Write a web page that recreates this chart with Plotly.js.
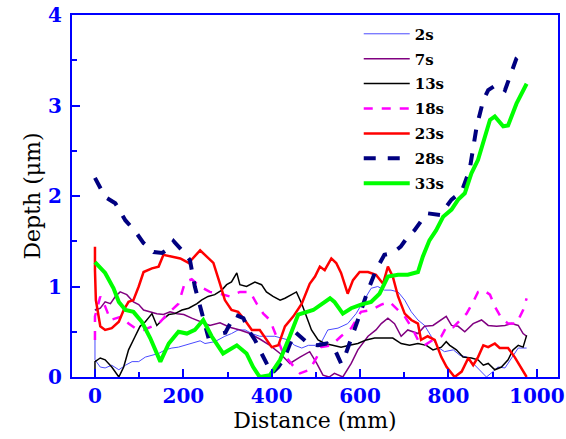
<!DOCTYPE html>
<html>
<head>
<meta charset="utf-8">
<script src="https://cdn.plot.ly/plotly-3.0.1.min.js"></script>
<style>html,body{margin:0;padding:0;background:#fff;}#chart{width:566px;height:439px;}</style>
</head>
<body>
<div id="chart"></div>
<script>
// Series names
const seriesNames = ['2s', '7s', '13s', '18s', '23s', '28s', '33s'];

// 2s
const x2s = [0,0,12,23,38,54,69,84,99,114,129,144,159,174,189,204,219,238,249,271,294,309,324,340,355,373,388,407,422,437,452,468,483,498,513,527,550,572,591,610,625,640,655,670,686,701,716,731,746,761,776,791,811,826,841,856,871,886,901,912,928,943,958,977];
const y2s = [0.45,0.19,0.11,0.10,0.13,0.08,0.13,0.17,0.17,0.22,0.24,0.26,0.30,0.32,0.33,0.35,0.37,0.40,0.37,0.39,0.45,0.48,0.52,0.52,0.48,0.45,0.45,0.45,0.43,0.41,0.35,0.32,0.35,0.35,0.39,0.52,0.54,0.59,0.70,0.85,0.98,1.0,0.96,0.96,0.94,0.85,0.72,0.63,0.57,0.45,0.33,0.28,0.30,0.24,0.22,0.15,0.08,0.0,0.06,0.11,0.10,0.21,0.32,0.32];

// 7s
const x7s = [0,2,12,23,35,46,57,72,87,99,110,125,140,155,170,186,201,219,238,260,283,305,328,351,373,396,419,441,464,486,502,516,530,542,561,580,595,618,636,648,663,678,693,708,731,746,765,784,795,807,822,837,856,875,890,909,928,943,958,969,977];
const y7s = [0.75,0.74,0.76,0.83,0.81,0.89,0.94,0.91,0.83,0.80,0.74,0.72,0.70,0.69,0.72,0.70,0.69,0.65,0.61,0.57,0.60,0.55,0.52,0.48,0.42,0.35,0.26,0.15,0.22,0.28,0.15,0.02,0.0,0.04,0.0,0.15,0.30,0.45,0.52,0.59,0.65,0.59,0.45,0.52,0.48,0.56,0.57,0.63,0.67,0.57,0.56,0.50,0.59,0.63,0.57,0.56,0.57,0.59,0.57,0.48,0.45];

// 13s
const x13s = [0,0,12,23,38,54,65,76,91,102,114,129,140,152,167,181,197,212,231,241,256,271,287,298,309,321,328,343,362,377,388,403,419,430,445,456,468,479,490,505,520,538,557,576,595,614,633,655,674,693,712,731,750,765,784,795,803,818,833,852,867,879,890,905,920,935,946,958,969,977];
const y13s = [0,0.17,0.21,0.19,0.11,0.0,0.11,0.30,0.45,0.56,0.61,0.70,0.57,0.63,0.69,0.70,0.74,0.76,0.81,0.85,0.89,0.91,0.96,1.02,1.05,1.15,1.02,1.0,1.05,1.02,0.94,0.89,0.85,0.87,0.91,0.94,0.81,0.67,0.52,0.41,0.37,0.35,0.33,0.35,0.37,0.41,0.43,0.43,0.43,0.37,0.35,0.37,0.35,0.30,0.33,0.39,0.35,0.30,0.22,0.21,0.19,0.13,0.15,0.08,0.11,0.19,0.30,0.35,0.33,0.46];

// 18s
const x18s = [0,0,12,23,35,50,61,76,91,110,129,144,159,174,189,204,219,238,260,283,305,328,351,366,381,396,411,426,449,464,486,502,512,535,557,580,602,625,648,667,686,701,720,731,746,765,784,796,811,826,841,856,867,879,894,905,920,935,954,969,977];
const y18s = [0.41,0.67,0.89,0.78,0.63,0.65,0.67,0.59,0.54,0.52,0.56,0.59,0.67,0.74,0.81,1.05,1.08,1.0,0.94,0.92,0.89,0.94,0.94,0.81,0.70,0.63,0.45,0.26,0.12,0.04,0.08,0.22,0.33,0.35,0.45,0.54,0.72,0.74,0.80,0.83,0.74,0.67,0.52,0.41,0.35,0.41,0.45,0.56,0.55,0.63,0.70,0.83,0.94,0.96,0.91,0.78,0.65,0.59,0.59,0.74,0.87];

// 23s
const x23s = [0,0,2,12,23,38,54,65,76,87,99,110,129,144,155,174,193,212,226,238,253,268,283,294,309,324,339,355,373,388,400,415,430,449,468,486,498,509,520,535,546,557,572,584,599,618,636,652,663,674,686,701,716,731,738,753,769,784,796,814,830,845,856,867,879,890,905,916,935,950,965,977];
const y23s = [1.44,1.18,0.85,0.56,0.52,0.54,0.61,0.74,0.83,0.85,1.0,1.16,1.20,1.22,1.35,1.33,1.31,1.26,1.33,1.40,1.33,1.26,1.03,0.85,0.74,0.72,0.63,0.52,0.52,0.41,0.33,0.35,0.56,0.67,0.81,1.03,1.11,1.22,1.18,1.31,1.26,1.15,0.92,1.07,1.16,1.16,1.13,1.03,1.22,1.11,0.89,0.70,0.63,0.59,0.41,0.45,0.41,0.22,0.11,0.0,0.06,0.21,0.13,0.22,0.35,0.33,0.37,0.32,0.32,0.22,0.10,0.0];

// 28s
const x28s = [0,23,46,69,91,110,133,152,167,178,197,208,215,226,241,256,275,295,317,336,347,362,377,388,400,415,430,452,483,505,525,545,557,565,580,595,618,636,655,674,692,708,723,751,781,807,830,848,864,879,890,909,928,943,954,973];
const y28s = [2.2,1.99,1.92,1.73,1.61,1.48,1.38,1.37,1.42,1.50,1.40,1.33,1.29,1.0,0.74,0.45,0.47,0.49,0.69,0.65,0.52,0.41,0.26,0.15,0.04,0.11,0.22,0.50,0.37,0.35,0.37,0.28,0.15,0.22,0.41,0.63,0.96,1.18,1.35,1.37,1.44,1.55,1.62,1.81,1.79,1.96,2.05,2.29,2.77,3.06,3.17,3.23,3.17,3.39,3.52,3.61];

// 33s
const x33s = [0,23,42,54,69,87,106,125,148,167,189,208,226,245,264,290,321,343,358,373,396,419,441,460,494,516,532,542,561,580,602,625,644,663,686,708,731,742,757,772,788,807,822,837,852,867,879,894,905,924,935,954,977];
const y33s = [1.27,1.15,0.98,0.83,0.74,0.72,0.61,0.43,0.17,0.37,0.50,0.48,0.52,0.63,0.45,0.26,0.35,0.26,0.11,0.0,0.02,0.19,0.45,0.69,0.74,0.81,0.87,0.83,0.70,0.76,0.80,0.83,0.92,1.11,1.13,1.13,1.16,1.33,1.51,1.62,1.77,1.85,1.96,2.03,2.25,2.40,2.58,2.84,2.88,2.77,2.78,3.02,3.24];

const xs = [x2s, x7s, x13s, x18s, x23s, x28s, x33s];
const ys = [y2s, y7s, y13s, y18s, y23s, y28s, y33s];
const colors = ['#4a4aff', '#800080', '#000000', '#ff00ff', '#ff0000', '#000080', '#00ff00'];
const widths = [1, 1.5, 1.5, 2.5, 2.5, 4, 4];
const dashes = ['solid', 'solid', 'solid', 'dash', 'solid', 'dash', 'solid'];

const FONT = 'DejaVu Serif';
const BLUE = '#0000ff';

const traces = seriesNames.map((name, i) => ({
  type: 'scatter', mode: 'lines', name: name, legendgroup: 'g' + i,
  x: xs[i], y: ys[i],
  line: {color: colors[i], width: widths[i], dash: dashes[i]}
}));

const axisCommon = {
  showgrid: false, zeroline: false,
  linecolor: BLUE, linewidth: 2, mirror: true,
  ticks: 'inside', ticklen: 8, tickwidth: 2, tickcolor: BLUE,
  tickfont: {family: FONT, size: 20, color: BLUE, weight: 'bold'}
};

const layout = {
  width: 566, height: 439,
  margin: {l: 72, r: 8, t: 15, b: 62},
  paper_bgcolor: '#ffffff', plot_bgcolor: '#ffffff',
  font: {family: FONT},
  showlegend: true,
  legend: {
    x: 0.59, y: 0.993, xanchor: 'left', yanchor: 'top',
    bgcolor: 'rgba(0,0,0,0)', borderwidth: 0,
    font: {family: FONT, size: 15, color: '#000000', weight: 'bold'},
    itemwidth: 46, tracegroupgap: 2.4
  },
  xaxis: Object.assign({}, axisCommon, {
    range: [-52, 1048], tick0: 0, dtick: 200,
    minor: {ticks: 'inside', ticklen: 5, tickwidth: 2, tickcolor: BLUE, dtick: 100, tick0: 0, showgrid: false},
    title: {text: 'Distance (mm)', font: {family: FONT, size: 22, color: '#000000'}, standoff: 6}
  }),
  yaxis: Object.assign({}, axisCommon, {
    range: [0, 4], tick0: 0, dtick: 1, ticklabelstandoff: 4,
    minor: {ticks: 'inside', ticklen: 5, tickwidth: 2, tickcolor: BLUE, dtick: 0.5, tick0: 0, showgrid: false},
    title: {text: 'Depth (μm)', font: {family: FONT, size: 22, color: '#000000'}, standoff: 1}
  })
};

Plotly.newPlot('chart', traces, layout, {displayModeBar: false, staticPlot: true});
</script>
</body>
</html>
